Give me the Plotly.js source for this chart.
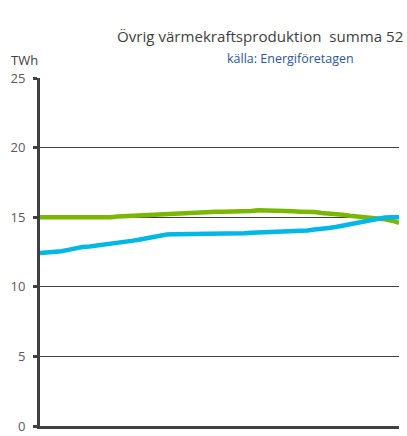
<!DOCTYPE html>
<html>
<head>
<meta charset="utf-8">
<script src="https://cdn.plot.ly/plotly-3.0.1.min.js"></script>
<style>html,body{margin:0;padding:0;background:#fff;}#chart{width:407px;height:436px;}</style>
</head>
<body>
<div id="chart"></div>
<script>
const weeks = Array.from({length: 52}, (_, i) => i + 1);
const greenSeries = [15.0,15.0,15.0,15.0,14.98,14.92,14.92,14.97,15.0,15.0,15.0,15.05,15.08,15.1,15.1,15.15,15.2,15.22,15.25,15.3,15.3,15.3,15.32,15.37,15.4,15.4,15.4,15.4,15.4,15.4,15.45,15.5,15.5,15.5,15.5,15.47,15.42,15.4,15.4,15.38,15.3,15.28,15.25,15.18,15.1,15.05,15.02,15.0,14.9,14.85,14.75,14.6];
const blueSeries = [12.43,12.45,12.48,12.55,12.65,12.78,12.86,12.9,12.96,13.0,13.06,13.18,13.25,13.3,13.38,13.48,13.55,13.65,13.75,13.77,13.77,13.77,13.77,13.77,13.78,13.82,13.82,13.82,13.83,13.85,13.88,13.9,13.9,13.9,13.93,13.95,13.95,13.97,14.05,14.12,14.15,14.22,14.3,14.4,14.5,14.6,14.68,14.78,14.88,14.98,15.0,15.0];
const yTicks = [0, 5, 10, 15, 20, 25];
const titleText = 'Övrig värmekraftsproduktion  summa 52';
const sourceText = 'källa: Energiföretagen';
const unitText = 'TWh';

const font = '"Open Sans", "Liberation Sans", sans-serif';
const traces = [
  {x: weeks, y: greenSeries, type: 'scatter', mode: 'lines', line: {color: '#7AB800', width: 4.5}, hoverinfo: 'skip'},
  {x: weeks, y: blueSeries, type: 'scatter', mode: 'lines', line: {color: '#00B7E6', width: 4.5}, hoverinfo: 'skip'}
];
const layout = {
  width: 407, height: 436,
  margin: {l: 40, r: 8, t: 78, b: 10},
  paper_bgcolor: '#fff', plot_bgcolor: '#fff',
  showlegend: false,
  font: {family: font, color: '#595959', size: 12},
  xaxis: {range: [1, 52], showticklabels: false, showgrid: false, zeroline: false,
          showline: true, linecolor: '#404040', linewidth: 3, ticks: '', fixedrange: true},
  yaxis: {range: [0, 25], tickvals: yTicks, ticktext: yTicks.map(String), showgrid: true,
          gridcolor: '#404040', gridwidth: 1, zeroline: false, showline: true,
          linecolor: '#404040', linewidth: 3, ticks: 'outside', ticklen: 4, tickwidth: 3,
          tickcolor: '#404040', tickfont: {size: 13, color: '#595959'}, ticklabelstandoff: 5},
  annotations: [
    {text: titleText, xref: 'paper', yref: 'paper', x: (115-40)/359, y: 1, yshift: 30,
     xanchor: 'left', yanchor: 'bottom', showarrow: false, font: {size: 15.1, color: '#404040', family: font}},
    {text: sourceText, xref: 'paper', yref: 'paper', x: (290-40)/359, y: 1, yshift: 9,
     xanchor: 'center', yanchor: 'bottom', showarrow: false, font: {size: 12.5, color: '#2F5597', family: font}},
    {text: unitText, xref: 'paper', yref: 'paper', x: 0, xshift: -31, y: 1, yshift: 7,
     xanchor: 'left', yanchor: 'bottom', showarrow: false, font: {size: 13, color: '#404040', family: font}}
  ]
};
Plotly.newPlot('chart', traces, layout, {displayModeBar: false, staticPlot: true});
</script>
</body>
</html>
